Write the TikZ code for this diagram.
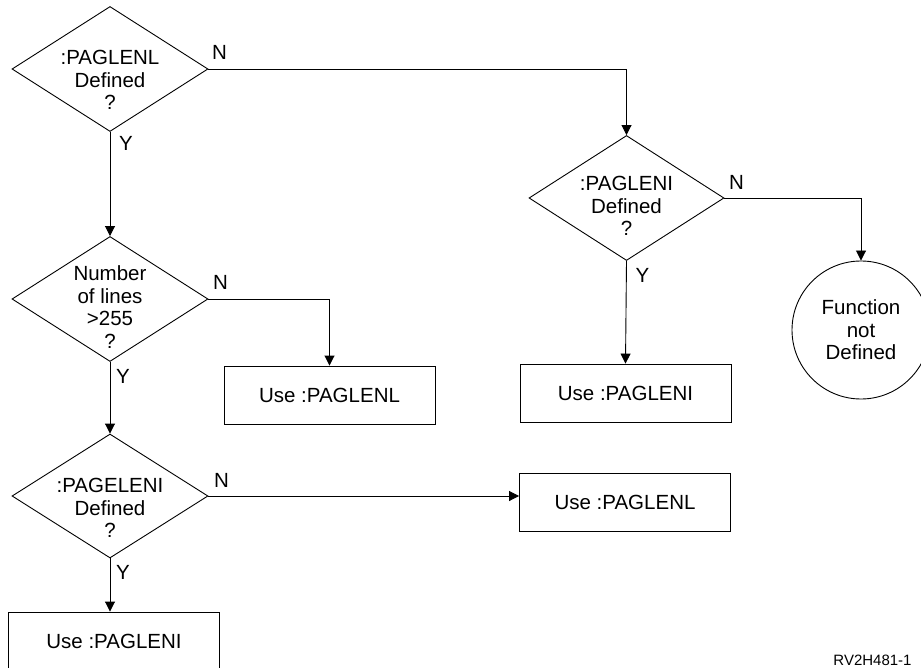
\documentclass[tikz,border=0pt]{standalone}
\usepackage{fontspec}
\setmainfont{Liberation Sans}
\usetikzlibrary{shapes.geometric,arrows.meta,calc}
\begin{document}
\begin{tikzpicture}[x=1pt,y=-1pt,line width=0.9pt,
  every node/.style={font=\fontsize{20.5}{22.5}\selectfont},
  dia/.style={diamond,draw,inner sep=0pt,minimum width=196pt,minimum height=125pt},
  dtext/.style={align=center,inner sep=0pt},
  box/.style={rectangle,draw,inner sep=0pt,minimum width=211pt,minimum height=58pt},
  endc/.style={circle,draw,inner sep=0pt,minimum size=138pt,align=center},
  yn/.style={inner sep=0pt},
  arr/.style={-{Triangle[length=10pt,width=10pt]}}]
\clip (0,0) rectangle (921,668);
\fill[white] (0,0) rectangle (921,668);
% decisions
\node[dia] (d1) at (110,69) {};
\node[dtext] (t1) at ($(d1.center)+(0,11)$) {:PAGLENL\\Defined\\?};
\node[dia,minimum width=195pt] (d2) at (626.5,198) {};
\node[dtext] (t2) at ($(d2.center)+(0,8)$) {:PAGLENI\\Defined\\?};
\node[dia] (d3) at (110,299) {};
\node[dtext] (t3) at ($(d3.center)+(0,8)$) {Number\\of lines\\>255\\?};
\node[dia,minimum height=124pt] (d4) at (110,496) {};
\node[dtext] (t4) at ($(d4.center)+(0,12)$) {:PAGELENI\\Defined\\?};
% outcomes
\node[box] (b1) at (329.5,395) {Use :PAGLENL};
\node[box] (b2) at (625.5,393) {Use :PAGLENI};
\node[box] (b3) at (625,502) {Use :PAGLENL};
\node[box] (b4) at (114,641) {Use :PAGLENI};
\node[endc] (c) at (861,330) {Function\\not\\Defined};
% connectors
\draw[arr] (d1.east) -| (d2.north);
\draw[arr] (d1.south) -- (d3.north);
\draw[arr] (d2.east) -| (c.north);
\draw[arr] (d2.south) -- (b2.north);
\draw[arr] (d3.east) -| (b1.north);
\draw[arr] (d3.south) -- (d4.north);
\draw[arr] (d4.east) -- (b3.west |- d4.east);
\draw[arr] (d4.south) -- (d4.south |- b4.north);
% labels
\node[yn] (n1) at ($(d1.east)+(11,-17)$) {N};
\node[yn] (y1) at ($(d1.south)+(16,12)$) {Y};
\node[yn] (n2) at ($(d2.east)+(12,-16)$) {N};
\node[yn] (y2) at ($(d2.south)+(16,14)$) {Y};
\node[yn] (n3) at ($(d3.east)+(12,-17)$) {N};
\node[yn] (y3) at ($(d3.south)+(13,14)$) {Y};
\node[yn] (n4) at ($(d4.east)+(13,-16)$) {N};
\node[yn] (y4) at ($(d4.south)+(13,14)$) {Y};
\node[anchor=base east,inner sep=0pt,font=\fontsize{15}{18}\selectfont] (id) at (912,665) {RV2H481-1};
\end{tikzpicture}
\end{document}
